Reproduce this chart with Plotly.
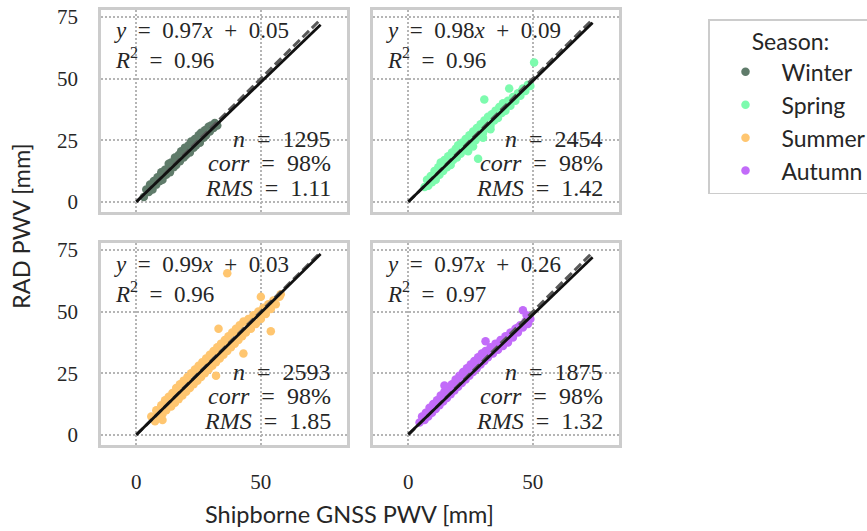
import plotly.graph_objects as go

W, H = 867, 531

seasons = ["Winter", "Spring", "Summer", "Autumn"]
colors = ["#5f7b6a", "#7dfbae", "#ffc670", "#c26bf9"]
slopes = [0.97, 0.98, 0.99, 0.97]
intercepts = [0.05, 0.09, 0.03, 0.26]
r2 = [0.96, 0.96, 0.96, 0.97]
n_obs = [1295, 2454, 2593, 1875]
corr_pct = [98, 98, 98, 98]
rms = [1.11, 1.42, 1.85, 1.32]
line_max = [74, 74, 74, 74]
x_ticks = [0, 50]
y_ticks = [0, 25, 50, 75]

winter_pts = [(3, 2), (4, 5), (5, 4), (5.5, 7), (6.5, 5), (7, 8.5), (8, 7), (8.5, 10), (9.5, 8.5), (10, 12),
              (10.5, 9), (11.5, 13), (12, 11), (13, 15.5), (13.5, 12), (14, 16), (15, 14), (15.5, 18), (16, 15), (17, 19),
              (17.5, 16.5), (18, 20.5), (19, 18), (19.5, 22), (20, 19), (21, 23), (21.5, 20), (22, 24.5), (23, 22), (23.5, 25.5),
              (24, 23), (25, 27), (25.5, 24), (26, 28), (27, 26), (27.5, 29), (28, 27), (29, 30.5), (29.5, 28.5), (30, 31),
              (31, 30), (31.5, 32), (32.5, 31), (12, 13), (16, 17), (20, 21), (24, 25.5), (28, 29), (9, 9.5), (6, 6.5),
              (18.5, 19), (22.5, 23), (26.5, 27), (14.5, 14.5), (10.5, 10.5), (30.5, 30)]

spring_pts = [(6.5, 6), (7.5, 9), (8, 6.5), (9, 10.5), (9.5, 8), (10.5, 12.5), (11, 9), (12, 14), (12.5, 11), (13, 16),
              (14, 12.5), (14.5, 17), (15.5, 14), (16, 18.5), (17, 15), (17.5, 20), (18, 17), (19, 21.5), (19.5, 18), (20, 23),
              (21, 19.5), (21.5, 24), (22.5, 21), (23, 25.5), (24, 22), (24.5, 27), (25.5, 24), (26, 28.5), (27, 25), (27.5, 30),
              (28.5, 27), (29, 31.5), (30, 28), (30.5, 33), (31.5, 30), (32, 34.5), (33, 31), (33.5, 35.5), (34.5, 33), (35, 37),
              (36, 34), (36.5, 38.5), (37.5, 36), (38, 40), (39, 37), (40, 41), (41, 39), (42, 42.5), (43, 41), (44, 44),
              (45, 43), (46, 46), (47, 45), (48, 47.5), (10, 10), (14, 14.5), (18, 18.5), (22, 22.5), (26, 26), (30, 30.5),
              (34, 34), (38, 38.5), (42, 41.5), (45.5, 45), (20, 21), (28, 28.5), (26, 22.5), (30, 26), (33, 29.5), (24, 20.5),
              (30.5, 41.5), (50.5, 56.5), (28, 17.5), (40.5, 46), (49, 47)]

summer_pts = [(6, 7.5), (7.5, 5.5), (8, 10), (9, 7), (10, 12), (10.5, 8.5), (11.5, 14), (12, 10), (13, 15.5), (14, 11.5),
              (14.5, 17), (15.5, 13), (16, 19), (17, 14.5), (17.5, 20.5), (18.5, 16), (19, 22), (20, 17.5), (20.5, 23.5), (21.5, 19),
              (22, 25), (23, 20.5), (23.5, 26.5), (24.5, 22), (25, 28), (26, 23.5), (26.5, 29.5), (27.5, 25), (28, 31), (29, 26.5),
              (29.5, 32.5), (30.5, 28), (31, 34), (32, 29.5), (32.5, 35.5), (33.5, 31), (34, 37), (35, 32.5), (35.5, 38.5), (36.5, 34),
              (37, 40), (38, 35.5), (38.5, 41.5), (39.5, 37), (40, 43), (41, 38.5), (41.5, 44.5), (42.5, 40), (43, 46), (44, 41.5),
              (45, 47), (46, 43), (47, 48.5), (48, 45), (49, 50), (50, 47), (51, 51.5), (52, 49), (53, 53), (54, 51),
              (55, 54.5), (56, 53), (57.5, 56), (9, 9.5), (13, 13), (17, 17.5), (21, 21.5), (25, 25), (29, 29.5), (33, 33),
              (37, 37.5), (41, 41), (45, 45), (49, 48.5), (53, 52), (36.5, 65.5), (54, 42), (33, 43), (43, 33), (32, 24),
              (10.5, 6), (58, 57), (50, 56)]

autumn_pts = [(4.5, 5), (5.5, 7.5), (6.5, 6), (7, 9), (8, 7.5), (8.5, 11), (9.5, 9), (10, 12.5), (11, 10.5), (11.5, 14),
              (12.5, 12), (13, 16), (14, 13.5), (14.5, 17.5), (15.5, 15), (16, 19), (17, 16.5), (17.5, 20.5), (18.5, 18), (19, 22.5),
              (20, 19.5), (20.5, 24), (21.5, 21), (22, 25.5), (23, 22.5), (23.5, 27), (24.5, 24), (25, 28.5), (26, 25.5), (26.5, 30),
              (27.5, 27), (28, 31.5), (29, 28.5), (29.5, 33), (30.5, 30), (31, 34), (32, 31.5), (33, 35.5), (34, 33), (35, 37),
              (36, 34.5), (37, 38.5), (38, 36), (39, 40), (40, 37.5), (41, 41.5), (42, 39.5), (43, 43), (44, 41.5), (45, 44.5),
              (46, 43.5), (47, 46), (48, 45), (49, 47), (8, 9), (12, 13), (16, 17), (20, 21.5), (24, 25.5), (28, 29.5),
              (32, 33), (36, 36.5), (40, 40), (44, 43.5), (46, 50.5), (14.5, 20), (31, 38), (47.5, 48.5)]

season_pts = [winter_pts, spring_pts, summer_pts, autumn_pts]

SERIF = "Times New Roman, Liberation Serif, Noto Serif, DejaVu Serif, serif"
SANS = "Lato"
TXT = "#262626"


def sx(px):
    return px / W


def sy(py):
    return 1 - py / H


# panel boxes in screen pixels: left, right, top, bottom
panels = [(101, 347, 10, 212), (373, 619, 10, 212), (101, 347, 243, 445), (373, 619, 243, 445)]
x_range = [-14.2, 84.6]
y_range = [-4.1, 77.8]

fig = go.Figure()
annotations = []
layout_axes = {}

for i, season in enumerate(seasons):
    xa = "x" if i == 0 else f"x{i+1}"
    ya = "y" if i == 0 else f"y{i+1}"
    pts = season_pts[i]
    fig.add_trace(go.Scatter(
        x=[p[0] for p in pts], y=[p[1] for p in pts], mode="markers",
        marker=dict(color=colors[i], size=8.5, line=dict(width=0)),
        name=season, legendgroup=season, xaxis=xa, yaxis=ya))
    fig.add_trace(go.Scatter(
        x=[0, line_max[i]], y=[0, line_max[i]], mode="lines",
        line=dict(color="#595959", width=3, dash="9px,4px"),
        showlegend=False, hoverinfo="skip", xaxis=xa, yaxis=ya))
    fig.add_trace(go.Scatter(
        x=[0, line_max[i]], y=[intercepts[i], intercepts[i] + slopes[i] * line_max[i]], mode="lines",
        line=dict(color="#111111", width=2.8),
        showlegend=False, hoverinfo="skip", xaxis=xa, yaxis=ya))

    l, r, t, b = panels[i]
    axis_common = dict(
        showgrid=True, gridcolor="#b5b5b5", griddash="1.5px,2.5px", gridwidth=1.5,
        zeroline=False, showline=True, mirror=True, linecolor="#cccccc", linewidth=2.5,
        ticks="", ticklabelstandoff=16, ticklabeloverflow="allow",
        tickfont=dict(family=SERIF, size=21, color=TXT),
    )
    layout_axes["xaxis" if i == 0 else f"xaxis{i+1}"] = dict(
        axis_common, domain=[sx(l), sx(r)], range=x_range, anchor=ya,
        tickvals=x_ticks, showticklabels=(i >= 2))
    layout_axes["yaxis" if i == 0 else f"yaxis{i+1}"] = dict(
        axis_common, domain=[sy(b), sy(t)], range=y_range, anchor=xa,
        tickvals=y_ticks, showticklabels=(i % 2 == 0))

    ph = b - t
    pw = r - l
    sp = "\u2002"
    left_text = (f"<i>y</i>{sp}={sp}{slopes[i]:.2f}<i>x</i>{sp}+{sp}{intercepts[i]:.2f}<br>"
                 f"<i>R</i><sup>2</sup>{sp}={sp}{r2[i]:.2f}")
    right_lines = [f"<i>n</i>{sp}={sp}{n_obs[i]}",
                   f"<i>corr</i>{sp}={sp}{corr_pct[i]}%",
                   f"<i>RMS</i>{sp}={sp}{rms[i]:.2f}"]
    right_off = [129, 153, 178]
    annotations.append(dict(
        text=left_text, xref=f"{xa} domain", yref=f"{ya} domain",
        x=11 / pw, y=1 - 36 / ph, xanchor="left", yanchor="middle", align="left",
        showarrow=False, font=dict(family=SERIF, size=23, color=TXT)))
    for txt, off in zip(right_lines, right_off):
        annotations.append(dict(
            text=txt, xref=f"{xa} domain", yref=f"{ya} domain",
            x=1 - 14 / pw, y=1 - off / ph, xanchor="right", yanchor="middle",
            showarrow=False, font=dict(family=SERIF, size=24, color=TXT)))

annotations.append(dict(
    text="RAD PWV [mm]", xref="paper", yref="paper", x=sx(21), y=sy(226),
    xanchor="center", yanchor="middle", textangle=-90, showarrow=False,
    font=dict(family=SANS, size=23.5, color=TXT)))
annotations.append(dict(
    text="Shipborne GNSS PWV [mm]", xref="paper", yref="paper", x=sx(349), y=sy(514),
    xanchor="center", yanchor="middle", showarrow=False,
    font=dict(family=SANS, size=23.5, color=TXT)))

fig.update_layout(
    width=W, height=H,
    margin=dict(l=0, r=0, t=0, b=0, autoexpand=False),
    paper_bgcolor="white", plot_bgcolor="white",
    annotations=annotations,
    legend=dict(
        x=sx(708), y=sy(19), xanchor="left", yanchor="top",
        bgcolor="white", bordercolor="#cccccc", borderwidth=1.5,
        font=dict(family=SANS, size=23, color=TXT),
        title=dict(text="Season:", font=dict(family=SANS, size=23, color=TXT), side="top center"),
        itemsizing="trace", itemwidth=62, tracegroupgap=0,
    ),
    **layout_axes,
)

# remove the page's default 8px body margin so the figure fills the window
fig.write_html("out.html", config={"displayModeBar": False},
               post_script="document.body.style.margin = '0px';")
